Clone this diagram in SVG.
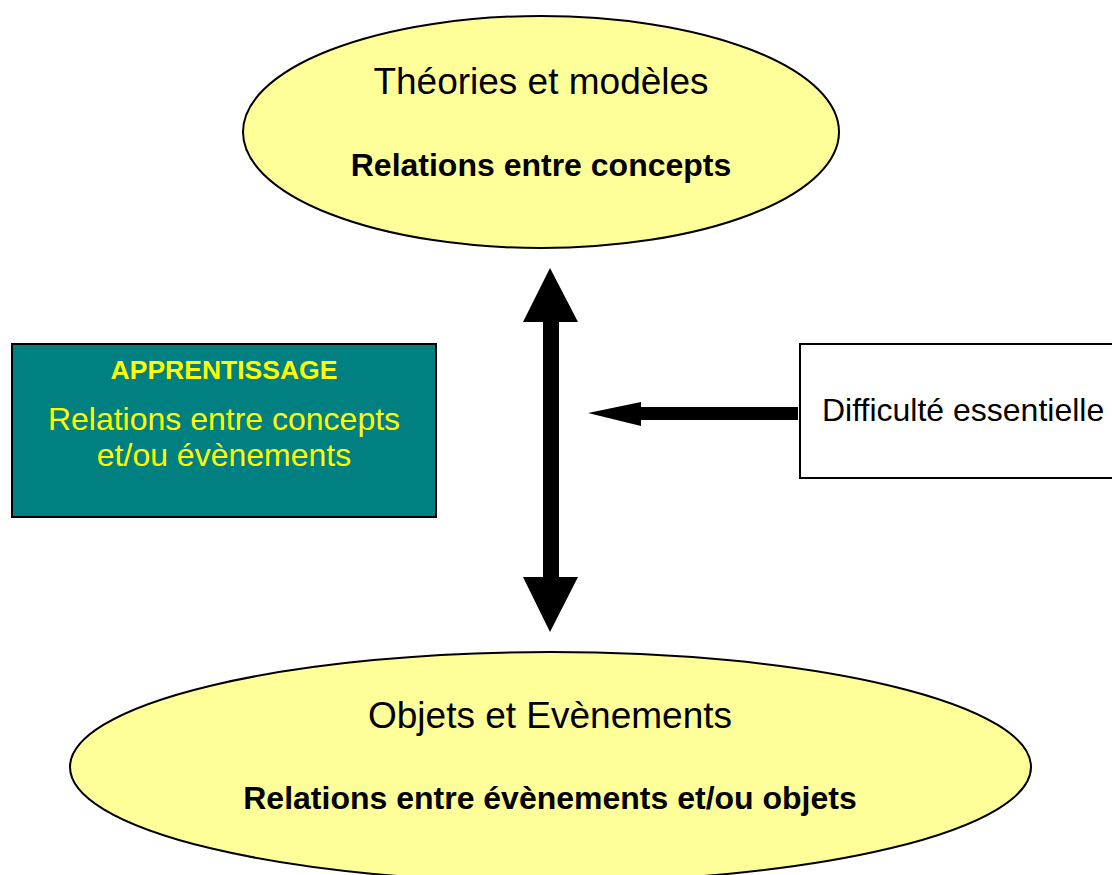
<svg xmlns="http://www.w3.org/2000/svg" width="1112" height="875" viewBox="0 0 1112 875">
<style>
.ell{fill:#FFFF99;stroke:#000;stroke-width:2}
.t{font-family:"Liberation Sans",Arial,sans-serif;text-anchor:middle}
.big{font-size:37px;fill:#000}
.bold{font-size:32px;font-weight:bold;fill:#000}
.y{fill:#FFFF00}
.arr{fill:#000}
</style>
<rect width="1112" height="875" fill="#fff"/>
<g id="theories">
<ellipse class="ell" cx="541" cy="132" rx="298" ry="116"/>
<text class="t big" x="541" y="94">Théories et modèles</text>
<text class="t bold" x="541" y="176">Relations entre concepts</text>
</g>
<g id="objets">
<ellipse class="ell" cx="550.5" cy="767" rx="480.5" ry="115"/>
<text class="t big" x="550" y="728">Objets et Evènements</text>
<text class="t bold" x="550" y="809">Relations entre évènements et/ou objets</text>
</g>
<g id="apprentissage">
<rect x="12" y="344" width="424" height="173" fill="#008080" stroke="#000" stroke-width="2"/>
<text class="t y" x="224" y="379" font-size="26.5" font-weight="bold">APPRENTISSAGE</text>
<text class="t y" x="224" y="430" font-size="32">Relations entre concepts</text>
<text class="t y" x="224" y="466" font-size="32">et/ou évènements</text>
</g>
<g id="difficulte">
<rect x="800" y="344" width="330" height="134" fill="#fff" stroke="#000" stroke-width="2"/>
<text class="t" x="822" y="421" font-size="32" style="text-anchor:start">Difficulté essentielle</text>
</g>
<g id="connectors">
<polygon class="arr" points="550,268 578,322 559,322 559,577 578,577 550,632 523,577 543,577 543,322 523,322"/>
<polygon class="arr" points="588,413 641,402 641,407 798,407 798,420 641,420 641,426"/>
</g>
</svg>
